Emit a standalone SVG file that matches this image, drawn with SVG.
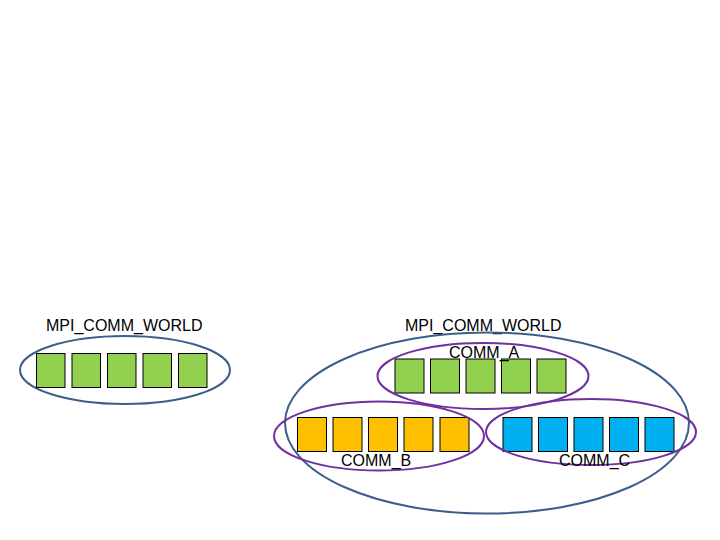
<svg xmlns="http://www.w3.org/2000/svg" width="720" height="540" viewBox="0 0 720 540">
<style>
text { font-family: "Liberation Sans", Arial, sans-serif; font-size: 16px; fill: #000; }
.world { fill: none; stroke: #3B5E8C; stroke-width: 2; }
.comm { fill: none; stroke: #7030A0; stroke-width: 2; }
.g { fill: #92D050; stroke: #000; stroke-width: 1; }
.y { fill: #FFC000; stroke: #000; stroke-width: 1; }
.b { fill: #00B0F0; stroke: #000; stroke-width: 1; }
</style>
<rect width="720" height="540" fill="#fff"/>
<g id="left-world">
  <text x="46" y="331">MPI_COMM_WORLD</text>
  <ellipse class="world" cx="125" cy="370" rx="105" ry="34"/>
  <rect class="g" x="36.5" y="353.5" width="28.5" height="34"/>
  <rect class="g" x="72" y="353.5" width="28.5" height="34"/>
  <rect class="g" x="107.5" y="353.5" width="28.5" height="34"/>
  <rect class="g" x="143" y="353.5" width="28.5" height="34"/>
  <rect class="g" x="178.5" y="353.5" width="28.5" height="34"/>
</g>
<g id="right-world">
  <text x="405" y="331">MPI_COMM_WORLD</text>
  <ellipse class="world" cx="487" cy="423" rx="202" ry="90.5"/>
</g>
<g id="comm-a">
  <rect class="g" x="395" y="359" width="29" height="34"/>
  <rect class="g" x="430.5" y="359" width="29" height="34"/>
  <rect class="g" x="466" y="359" width="29" height="34"/>
  <rect class="g" x="501.5" y="359" width="29" height="34"/>
  <rect class="g" x="537" y="359" width="29" height="34"/>
  <ellipse class="comm" cx="483" cy="376" rx="105.5" ry="33"/>
  <text x="449" y="358">COMM_A</text>
</g>
<g id="comm-b">
  <rect class="y" x="297.5" y="417.5" width="29" height="34"/>
  <rect class="y" x="333" y="417.5" width="29" height="34"/>
  <rect class="y" x="368.5" y="417.5" width="29" height="34"/>
  <rect class="y" x="404" y="417.5" width="29" height="34"/>
  <rect class="y" x="440" y="417.5" width="29" height="34"/>
  <ellipse class="comm" cx="379" cy="436" rx="105" ry="34.5"/>
  <text x="341" y="466">COMM_B</text>
</g>
<g id="comm-c">
  <rect class="b" x="503" y="417.5" width="29" height="34"/>
  <rect class="b" x="538.5" y="417.5" width="29" height="34"/>
  <rect class="b" x="574" y="417.5" width="29" height="34"/>
  <rect class="b" x="609.5" y="417.5" width="29" height="34"/>
  <rect class="b" x="645" y="417.5" width="29" height="34"/>
  <ellipse class="comm" cx="591" cy="432" rx="105" ry="33"/>
  <text x="559" y="466">COMM_C</text>
</g>
<g id="connectors"></g>
</svg>
